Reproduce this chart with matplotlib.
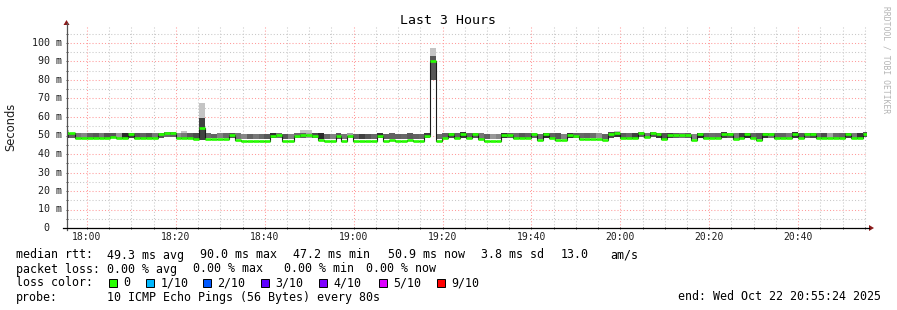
import numpy as np
import matplotlib.pyplot as plt
from matplotlib.patches import Polygon, Rectangle
from matplotlib.lines import Line2D
from matplotlib.transforms import blended_transform_factory

# ---- data ----
step_sec = 80
first_step_min = -5.4          # minutes relative to 18:00 of the first 80 s step

median_ms = [
    51.2, 51.2, 48.6, 48.6, 48.6, 48.6, 48.6, 48.6, 49.0, 48.4,
    48.4, 50.7, 48.6, 48.6, 48.6, 48.6, 50.7, 51.6, 51.6, 48.6,
    48.6, 48.6, 48.0, 54.2, 48.2, 48.2, 48.2, 48.2, 50.3, 47.8,
    47.2, 47.2, 47.2, 47.2, 47.2, 49.7, 50.3, 47.2, 47.2, 50.0,
    50.3, 50.3, 50.0, 47.6, 47.2, 47.2, 49.7, 47.2, 50.0, 47.2,
    47.2, 47.2, 47.2, 49.7, 47.2, 47.6, 47.2, 47.2, 47.6, 47.2,
    47.2, 50.0, 90.0, 47.2, 48.4, 50.7, 48.4, 50.7, 48.4, 50.7,
    48.0, 47.2, 47.2, 47.2, 50.3, 50.3, 48.4, 48.4, 48.4, 50.7,
    47.6, 50.7, 48.4, 47.6, 47.6, 50.5, 50.0, 48.2, 48.2, 48.2,
    48.2, 47.6, 50.7, 51.4, 48.6, 48.6, 48.6, 51.4, 49.0, 51.4,
    50.7, 48.0, 50.2, 50.2, 50.2, 50.2, 47.6, 50.7, 48.6, 48.6,
    48.6, 50.7, 50.7, 48.0, 48.6, 50.7, 48.6, 47.6, 50.7, 50.7,
    48.6, 48.6, 48.6, 50.7, 48.6, 50.7, 50.7, 48.6, 48.6, 48.6,
    48.6, 48.6, 50.7, 48.6, 48.6, 50.9,
]

smoke_lo_ms = [
    48.7, 48.8, 48.6, 48.6, 48.7, 48.6, 48.6, 48.7, 48.8, 48.5,
    48.5, 48.4, 48.6, 48.7, 48.6, 48.6, 48.8, 49.2, 49.0, 48.6,
    48.6, 48.6, 48.2, 47.6, 48.4, 48.5, 48.4, 48.4, 48.6, 48.2,
    48.2, 48.3, 48.2, 48.3, 48.2, 48.4, 48.6, 48.2, 48.1, 48.6,
    48.6, 48.5, 48.6, 48.0, 48.2, 48.1, 48.3, 48.1, 48.4, 48.2,
    48.1, 48.2, 48.2, 48.4, 48.1, 48.2, 48.1, 48.2, 48.3, 48.1,
    48.2, 48.4, 80.0, 48.1, 48.5, 48.7, 48.5, 48.8, 48.5, 48.7,
    48.2, 48.0, 48.1, 48.0, 48.5, 48.6, 48.5, 48.6, 48.4, 48.8,
    48.0, 48.8, 48.5, 48.0, 48.1, 48.7, 48.6, 48.4, 48.5, 48.4,
    48.4, 48.0, 48.8, 49.2, 48.6, 48.7, 48.6, 49.2, 48.6, 49.0,
    48.9, 48.2, 48.6, 48.7, 48.5, 48.6, 48.0, 48.8, 48.6, 48.7,
    48.6, 48.9, 48.8, 48.3, 48.6, 48.8, 48.6, 48.0, 48.9, 48.8,
    48.6, 48.7, 48.6, 48.9, 48.6, 48.8, 48.9, 48.6, 48.7, 48.6,
    48.6, 48.7, 48.9, 48.6, 48.6, 49.0,
]

smoke_hi_ms = [
    51.8, 51.6, 51.4, 51.3, 51.5, 51.4, 51.2, 51.4, 51.5, 51.3,
    51.1, 51.3, 51.4, 51.3, 51.5, 51.4, 51.2, 52.0, 52.1, 51.3,
    51.5, 51.4, 51.3, 59.6, 51.1, 51.0, 51.2, 51.1, 51.3, 51.2,
    51.0, 50.9, 50.8, 51.0, 50.9, 51.4, 51.3, 50.9, 50.9, 51.2,
    51.5, 51.6, 51.4, 51.1, 50.9, 51.0, 51.1, 50.9, 51.2, 51.0,
    50.9, 51.0, 50.9, 51.1, 51.0, 51.1, 50.9, 51.0, 51.1, 51.0,
    51.0, 51.4, 93.0, 50.9, 51.3, 51.6, 51.2, 51.7, 51.3, 51.6,
    51.1, 51.0, 50.9, 51.0, 51.4, 51.3, 51.2, 51.3, 51.1, 51.5,
    51.0, 51.6, 51.3, 51.1, 51.0, 51.4, 51.2, 51.1, 51.3, 51.2,
    51.1, 51.0, 51.7, 52.0, 51.4, 51.3, 51.2, 51.9, 51.5, 51.9,
    51.6, 51.1, 51.3, 51.4, 51.2, 51.3, 51.0, 51.6, 51.4, 51.3,
    51.2, 51.7, 51.5, 51.1, 51.3, 51.6, 51.4, 51.1, 51.6, 51.5,
    51.3, 51.2, 51.4, 51.7, 51.3, 51.6, 51.5, 51.2, 51.4, 51.3,
    51.2, 51.4, 51.6, 51.3, 51.2, 51.7,
]

# gray level of the dense part of the smoke (0 = black, 1 = white)
smoke_tone = [
    .20, .45, .55, .62, .45, .40, .55, .38, .40, .70,
    .20, .30, .40, .45, .38, .55, .40, .50, .45, .65,
    .55, .42, .35, .30, .50, .45, .60, .48, .40, .55,
    .62, .45, .55, .48, .40, .22, .52, .40, .60, .50,
    .45, .75, .35, .20, .48, .60, .42, .55, .75, .45,
    .30, .40, .48, .25, .45, .45, .45, .48, .42, .45,
    .48, .30, .40, .50, .45, .35, .45, .25, .45, .40,
    .55, .45, .70, .62, .25, .45, .50, .40, .45, .45,
    .50, .20, .45, .40, .60, .25, .45, .48, .45, .50,
    .68, .45, .35, .25, .42, .48, .30, .45, .55, .40,
    .25, .38, .30, .45, .55, .45, .60, .20, .45, .50,
    .48, .30, .40, .55, .28, .20, .45, .40, .25, .52,
    .45, .45, .55, .25, .40, .45, .35, .50, .35, .75,
    .48, .45, .30, .55, .25, .40,
]

# sparse outlier pings above the dense smoke
peak_steps = [0, 20, 23, 40, 41, 62, 93]
peak_top_ms = [53.0, 52.4, 67.7, 53.0, 53.0, 97.3, 52.4]

x_tick_min = [0, 20, 40, 60, 80, 100, 120, 140, 160]
x_tick_labels = ['18:00', '18:20', '18:40', '19:00', '19:20', '19:40',
                 '20:00', '20:20', '20:40']
y_tick_ms = [0, 10, 20, 30, 40, 50, 60, 70, 80, 90, 100]
y_tick_labels = ['0', '10 m', '20 m', '30 m', '40 m', '50 m', '60 m',
                 '70 m', '80 m', '90 m', '100 m']

loss_labels = ['0', '1/10', '2/10', '3/10', '4/10', '5/10', '9/10']
loss_colors = ['#26ff00', '#00b8ff', '#0059ff', '#5e00ff', '#7e00ff', '#dd00ff', '#ff0000']

# ---- figure ----
W, H = 897, 310
fig = plt.figure(figsize=(W / 100, H / 100), dpi=100)
fig.patch.set_facecolor('white')


def fx(px):
    return px / W


def fy(py):
    return 1 - py / H


ax_left, ax_right, ax_top, ax_bot = 66.5, 866.5, 26, 228
ax = fig.add_axes([fx(ax_left), fy(ax_bot), fx(ax_right - ax_left), (ax_bot - ax_top) / H])
ax.set_xlim(-4.6, 175.4)
ax.set_ylim(0, (ax_bot - ax_top) / 1.85)
for s in ax.spines.values():
    s.set_visible(False)

ax.set_xticks(x_tick_min)
ax.set_xticks(np.arange(0, 176, 5), minor=True)
ax.set_yticks(y_tick_ms)
ax.set_yticks(np.arange(5, 110, 10), minor=True)
ax.tick_params(which='both', length=2, width=0.7, color='#444444',
               labelbottom=False, labelleft=False, direction='inout')
ax.grid(which='minor', color='#c8c8c8', ls=(0, (1, 2)), lw=0.75)
ax.grid(which='major', color='#ff9a9a', ls=(0, (1, 2)), lw=0.75)
ax.set_axisbelow(True)

n = len(median_ms)
t = first_step_min + np.arange(n) * step_sec / 60.0
w = step_sec / 60.0
med = np.array(median_ms)
lo = np.array(smoke_lo_ms)
hi = np.array(smoke_hi_ms)

# outlier smoke (light)
for k, top in zip(peak_steps, peak_top_ms):
    ax.bar(t[k], top - hi[k], bottom=hi[k], width=w, align='edge',
           color='#c4c4c4', linewidth=0, zorder=2)
# dense smoke, slightly darkened
ax.bar(t, hi - lo, bottom=lo, width=w, align='edge',
       color=[str(round(v * 0.85, 3)) for v in smoke_tone], linewidth=0, zorder=2)

# median: dark step outline, then loss colour segments
edges = np.append(t, t[-1] + w)
ax.stairs(med, edges, baseline=None, color='#1a1a1a', lw=0.8, zorder=3)
ax.hlines(med, t, t + w, color=loss_colors[0], lw=1.9, zorder=4)

# axis lines with arrows
fig.add_artist(Line2D([fx(ax_left), fx(ax_left)], [fy(ax_bot + 2), fy(23)], color='#555555', lw=0.9))
fig.add_artist(Line2D([fx(63), fx(869)], [fy(ax_bot), fy(ax_bot)], color='black', lw=0.9))
fig.add_artist(Polygon([[fx(ax_left - 3), fy(25)], [fx(ax_left + 3), fy(25)], [fx(ax_left), fy(20)]],
                       closed=True, color='#8b1a1a', lw=0, transform=fig.transFigure))
fig.add_artist(Polygon([[fx(869), fy(ax_bot - 3)], [fx(869), fy(ax_bot + 3)], [fx(874), fy(ax_bot)]],
                       closed=True, color='#8b1a1a', lw=0, transform=fig.transFigure))

mono = 'DejaVu Sans Mono'
txt_col = '#1e1e1e'

# tick labels
tr_y = blended_transform_factory(fig.transFigure, ax.transData)
for v, lab in zip(y_tick_ms, y_tick_labels):
    xr = 49.5 if v == 0 else 61.5
    ax.text(fx(xr), v, lab, transform=tr_y, ha='right', va='center',
            family=mono, fontsize=7.2, color=txt_col)
tr_x = blended_transform_factory(ax.transData, fig.transFigure)
for v, lab in zip(x_tick_min, x_tick_labels):
    ax.text(v, fy(237.5), lab, transform=tr_x, ha='center', va='center',
            family=mono, fontsize=7.0, color=txt_col)

# titles
fig.text(fx(448), fy(20), 'Last 3 Hours', ha='center', va='center',
         family=mono, fontsize=9.5, color='black')
fig.text(fx(11), fy(127), 'Seconds', ha='center', va='center', rotation=90,
         family='DejaVu Sans', fontsize=8.3, color=txt_col)
fig.text(fx(886), fy(60), 'RRDTOOL / TOBI OETIKER', ha='center', va='center',
         rotation=270, family=mono, fontsize=5.8, color='#b4b4b4')

# legend block
fs = 8.4
rows = [
    (258.5, [(16, 'median rtt:'), (107, '49.3 ms avg'), (200, '90.0 ms max'),
             (293, '47.2 ms min'), (388, '50.9 ms now'), (481, '3.8 ms sd'),
             (561, '13.0'), (610, 'am/s')]),
    (272.5, [(16, 'packet loss:'), (107, '0.00 % avg'), (193, '0.00 % max'),
             (284, '0.00 % min'), (366, '0.00 % now')]),
    (286.5, [(16, 'loss color:')]),
    (300.5, [(16, 'probe:'), (107, '10 ICMP Echo Pings (56 Bytes) every 80s'),
             (678, 'end: Wed Oct 22 20:55:24 2025')]),
]
for yb, items in rows:
    for xp, s in items:
        fig.text(fx(xp), fy(yb), s, ha='left', va='baseline',
                 family=mono, fontsize=fs, color='black')

box_x = [108.7, 145.7, 203, 261, 319, 378.5, 437]
for bx, lab, col in zip(box_x, loss_labels, loss_colors):
    fig.add_artist(Rectangle((fx(bx), fy(286.5)), fx(8), 8 / H, facecolor=col,
                             edgecolor='black', lw=0.7, transform=fig.transFigure))
    fig.text(fx(bx + 14.5), fy(286.5), lab, ha='left', va='baseline',
             family=mono, fontsize=fs, color='black')

fig.savefig('out.png', dpi=100)
